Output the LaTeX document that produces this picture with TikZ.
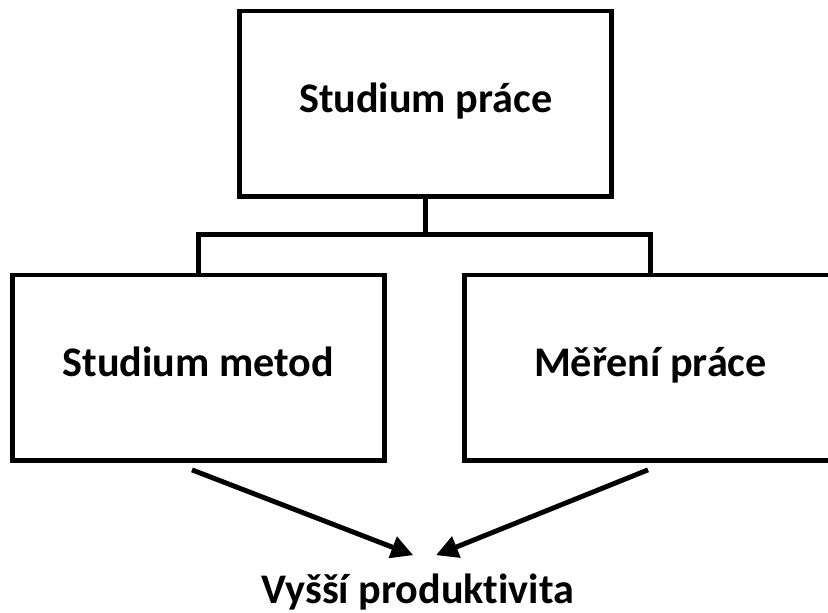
\documentclass[tikz,border=0pt]{standalone}
\usepackage{fontspec}
\setmainfont{Carlito}[Ligatures=NoCommon]
\usetikzlibrary{arrows.meta}

\begin{document}
\begin{tikzpicture}[
  box/.style={draw, line width=3.5pt, minimum width=9.3cm, minimum height=4.63cm, inner sep=0pt, text height=0.65cm, text depth=0.2cm, font=\fontsize{30}{36}\selectfont\bfseries},
  link/.style={line width=3.5pt},
  pointer/.style={line width=3.5pt, -{Triangle[length=0.55cm, width=0.55cm]}}
]
% Set the page size
\useasboundingbox (0, 0) rectangle (20.7, -15.3);

% Draw the boxes
\node[box] (prace) at (10.64, -2.59) {Studium práce};
\node[box] (metody) at (4.96, -9.19) {Studium metod};
\node[box] (mereni) at (16.26, -9.19) {Měření práce};

% Connect them
\coordinate (split) at (10.64, -5.86);
\draw[link] (prace.south) -- (split);
\draw[link] (metody.north) |- (split) -| (mereni.north);

% Arrows to the result
\node[anchor=base, font=\fontsize{30}{36}\selectfont\bfseries] (vysledek) at (10.44, -15.08) {Vyšší produktivita};
\coordinate (tipL) at (10.33, -13.88);
\coordinate (tipR) at (10.9, -13.88);
\draw[pointer] ([xshift=-0.16cm, yshift=-0.18cm]metody.south) -- (tipL);
\draw[pointer] ([xshift=-0.06cm, yshift=-0.18cm]mereni.south) -- (tipR);
\end{tikzpicture}
\end{document}
